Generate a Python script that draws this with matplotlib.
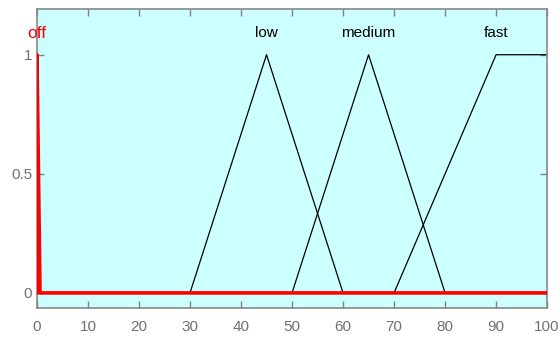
import matplotlib
matplotlib.use("Agg")
import matplotlib.pyplot as plt
from matplotlib import font_manager
import numpy as np

# prefer a narrow face like the reference, fall back otherwise
names = {f.name for f in font_manager.fontManager.ttflist}
if "Liberation Sans Narrow" in names:
    plt.rcParams["font.family"] = ["Liberation Sans Narrow", "DejaVu Sans"]
    tick_fs, label_fs = 12.5, 12.5
else:
    plt.rcParams["font.family"] = ["Liberation Sans", "DejaVu Sans"]
    tick_fs, label_fs = 11, 11

# membership function breakpoints (x, mu)
off_x = [0, 0, 0.6, 100]
off_y = [0, 1, 0, 0]
low_x = [0, 30, 45, 60, 100]
low_y = [0, 0, 1, 0, 0]
medium_x = [0, 50, 65, 80, 100]
medium_y = [0, 0, 1, 0, 0]
fast_x = [0, 70, 90, 100]
fast_y = [0, 0, 1, 1]

mf_names = ["off", "low", "medium", "fast"]
label_x = [0, 45, 65, 90]

xticks = np.arange(0, 101, 10)
yticks = [0, 0.5, 1]

fig = plt.figure(figsize=(5.6, 3.38), dpi=100)
ax = fig.add_axes([0.066, 0.089, 0.911, 0.883])
ax.set_facecolor("#ccffff")

for xs, ys in [(low_x, low_y), (medium_x, medium_y), (fast_x, fast_y)]:
    ax.plot(xs, ys, color="black", lw=0.9)
ax.plot(off_x, off_y, color="#ff0000", lw=2.6, zorder=3)

for name, lx in zip(mf_names, label_x):
    if name == "off":
        ax.text(lx, 1.09, name, ha="center", va="center", fontsize=label_fs + 1.5,
                color="#ff0000")
    else:
        ax.text(lx, 1.09, name, ha="center", va="center", fontsize=label_fs,
                color="black")

ax.set_xlim(0, 100)
ax.set_ylim(-0.063, 1.19)
ax.set_xticks(xticks)
ax.set_yticks(yticks)
ax.set_yticklabels(["0", "0.5", "1"])
ax.tick_params(direction="in", length=5, color="#808080", labelcolor="#707070",
               labelsize=tick_fs, top=True, right=True, width=1)
ax.tick_params(axis="x", pad=9)
for s in ax.spines.values():
    s.set_color("#888888")
    s.set_linewidth(1.2)

fig.savefig("out.png", dpi=100)
